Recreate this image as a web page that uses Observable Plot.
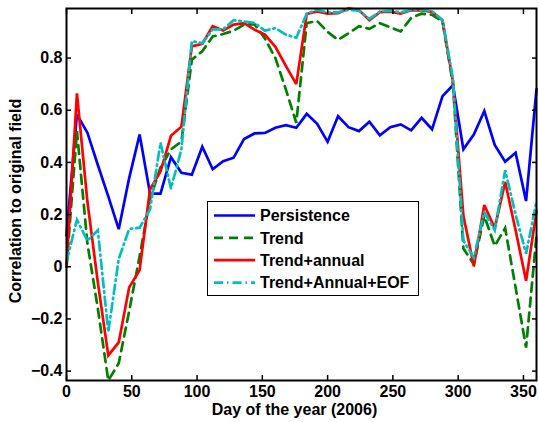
<!DOCTYPE html>
<html>
<head>
<meta charset="utf-8">
<script src="https://cdn.jsdelivr.net/npm/d3@7"></script>
<script src="https://cdn.jsdelivr.net/npm/@observablehq/plot@0.6"></script>
<style>
  html, body { margin: 0; padding: 0; background: white; }
  #wrap { position: relative; width: 539px; height: 422px; }
  #legend { position: absolute; left: 207px; top: 201px; }
</style>
</head>
<body>
<div id="wrap"></div>
<script>
const days = [0,8,16,24,32,40,48,56,64,72,80,88,96,104,112,120,128,136,144,152,160,168,176,184,192,200,208,216,224,232,240,248,256,264,272,280,288,296,304,312,320,328,336,344,352,360];

const persistence = [0.12,0.584,0.514,0.39,0.27,0.144,0.34,0.507,0.28,0.28,0.42,0.36,0.353,0.46,0.374,0.405,0.418,0.49,0.511,0.513,0.533,0.543,0.533,0.586,0.548,0.479,0.577,0.535,0.52,0.556,0.504,0.535,0.546,0.523,0.571,0.527,0.654,0.696,0.45,0.507,0.597,0.467,0.403,0.437,0.252,0.68];

const trend = [0.0,0.52,0.09,-0.16,-0.436,-0.37,-0.17,0.04,0.26,0.38,0.45,0.48,0.794,0.826,0.883,0.892,0.905,0.928,0.93,0.875,0.80,0.68,0.552,0.934,0.942,0.90,0.87,0.895,0.922,0.912,0.934,0.918,0.902,0.954,0.97,0.966,0.94,0.70,0.07,0.01,0.195,0.08,0.148,-0.08,-0.31,0.12];

const trendAnnual = [0.0,0.665,0.25,-0.06,-0.34,-0.29,-0.079,-0.013,0.297,0.365,0.502,0.537,0.845,0.855,0.922,0.906,0.928,0.934,0.909,0.89,0.843,0.77,0.70,0.969,0.979,0.97,0.972,0.99,0.984,0.945,0.976,0.978,0.97,0.983,0.983,0.977,0.945,0.71,0.195,0.002,0.237,0.148,0.325,0.14,-0.054,0.214];

const trendAnnualEOF = [0.02,0.18,0.10,0.14,-0.25,0.03,0.145,0.15,0.22,0.475,0.30,0.45,0.865,0.857,0.91,0.91,0.945,0.94,0.935,0.905,0.915,0.89,0.878,0.97,0.985,0.975,0.975,0.985,0.982,0.95,0.978,0.982,0.975,0.985,0.985,0.98,0.945,0.72,0.10,0.035,0.21,0.14,0.37,0.2,0.05,0.25];

const seriesNames = ["Persistence", "Trend", "Trend+annual", "Trend+Annual+EOF"];
const seriesColors = ["#0000ff", "#008000", "#ff0000", "#00bfbf"];
const seriesDash = [null, "9,6", null, "9,4,1.5,4"];
const seriesValues = [persistence, trend, trendAnnual, trendAnnualEOF];

const xTicks = [0,50,100,150,200,250,300,350];
const yTicks = [-0.4,-0.2,0,0.2,0.4,0.6,0.8];
const xDomain = [0, 360];
const yDomain = [-0.436, 0.99];

const fmtY = d => d === 0 ? "0" : d3.format(".1f")(d);

const lineMarks = seriesValues.map((vals, i) => {
  const rows = days.map((d, j) => ({day: d, v: vals[j]}));
  const opts = {x: "day", y: "v", stroke: seriesColors[i], strokeWidth: 2.7, strokeLinejoin: "miter", strokeMiterlimit: 3};
  if (seriesDash[i]) opts.strokeDasharray = seriesDash[i];
  return Plot.line(rows, opts);
});

const chart = Plot.plot({
  width: 539,
  height: 422,
  marginLeft: 66,
  marginRight: 3,
  marginTop: 8,
  marginBottom: 42,
  x: {domain: xDomain},
  y: {domain: yDomain},
  style: {
    fontFamily: "'Liberation Sans', Arial, Helvetica, sans-serif",
    fontSize: "16px",
    fontWeight: "bold",
    color: "black",
    background: "white",
    overflow: "visible"
  },
  marks: [
    ...lineMarks,
    Plot.frame({stroke: "black", strokeWidth: 2}),
    Plot.axisX({ticks: xTicks, anchor: "bottom", tickSize: 5, dy: -5, fill: "none", label: null, strokeWidth: 1.5}),
    Plot.axisX({ticks: xTicks, anchor: "top", tickSize: 5, dy: 5, fill: "none", label: null, strokeWidth: 1.5}),
    Plot.axisY({ticks: yTicks, anchor: "left", tickSize: 5, dx: 5, fill: "none", label: null, strokeWidth: 1.5}),
    Plot.axisY({ticks: yTicks, anchor: "right", tickSize: 5, dx: -5, fill: "none", label: null, strokeWidth: 1.5}),
    Plot.axisX({ticks: xTicks, anchor: "bottom", tickSize: 0, tickPadding: 5, tickFormat: d => String(d), label: null, fontSize: 16, fontWeight: "bold"}),
    Plot.axisY({ticks: yTicks, anchor: "left", tickSize: 0, tickPadding: 4, tickFormat: fmtY, label: null, fontSize: 16, fontWeight: "bold"}),
    Plot.text(["Day of the year (2006)"], {frameAnchor: "bottom", textAnchor: "middle", dx: -7, dy: 29, lineAnchor: "middle", fontSize: 16, fontWeight: "bold", fill: "black"}),
    Plot.text(["Correlation to original field"], {frameAnchor: "left", textAnchor: "middle", dx: -51, dy: 6.5, rotate: -90, lineAnchor: "middle", fontSize: 16, fontWeight: "bold", fill: "black"})
  ]
});

const wrap = document.getElementById("wrap");
wrap.appendChild(chart);

// Legend (drawn as SVG over the chart)
const lw = 212, lh = 95;
const legend = d3.create("svg")
  .attr("id", "legend")
  .attr("width", lw)
  .attr("height", lh)
  .style("font-family", "'Liberation Sans', Arial, Helvetica, sans-serif")
  .style("font-size", "16px")
  .style("font-weight", "bold");
legend.append("rect")
  .attr("x", 0.5).attr("y", 0.5)
  .attr("width", lw - 1).attr("height", lh - 1)
  .attr("fill", "white").attr("stroke", "black").attr("stroke-width", 1);
seriesNames.forEach((name, i) => {
  const cy = 14.5 + i * 22.35;
  const ln = legend.append("line")
    .attr("x1", 7).attr("x2", 48)
    .attr("y1", cy).attr("y2", cy)
    .attr("stroke", seriesColors[i])
    .attr("stroke-width", 2.7);
  if (seriesDash[i]) ln.attr("stroke-dasharray", seriesDash[i]);
  legend.append("text")
    .attr("x", 53)
    .attr("y", cy + 5.75)
    .attr("fill", "black")
    .text(name);
});
wrap.appendChild(legend.node());
</script>
</body>
</html>
